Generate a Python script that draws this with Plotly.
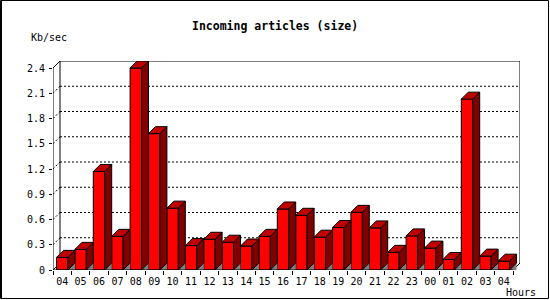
import plotly.graph_objects as go

hours = ["04", "05", "06", "07", "08", "09", "10", "11", "12", "13", "14", "15", "16",
         "17", "18", "19", "20", "21", "22", "23", "00", "01", "02", "03", "04"]
kbsec = [0.15, 0.245, 1.17, 0.40, 2.40, 1.62, 0.735, 0.29, 0.365, 0.33, 0.285, 0.40, 0.725,
         0.65, 0.39, 0.505, 0.685, 0.50, 0.21, 0.405, 0.26, 0.125, 2.03, 0.165, 0.105]
ytick_vals = [0, 0.3, 0.6, 0.9, 1.2, 1.5, 1.8, 2.1, 2.4]
ytick_text = ["0", "0.3", "0.6", "0.9", "1.2", "1.5", "1.8", "2.1", "2.4"]

W, H = 550, 300
ML, MR, MT, MB = 53, 30, 61, 30
pw, ph = W - ML - MR, H - MT - MB
n = len(hours)
pxx = (pw - 7) / n            # px per category on front
pxy = (ph - 7) / 2.4          # px per unit on front
dx = 7 / pxx
dy = 7 / pxy
xmin, xmax = -0.5, n - 0.5 + dx
ymax = 2.4 + dy
bw = 0.62

RED, TOP, SIDE, GRAY = "#ff0000", "#c00000", "#800000", "#808080"

def px2paper(x, y):
    return (x - ML) / pw, (H - MB - y) / ph

shapes = []
# grid lines on back wall
for v in ytick_vals[1:-1]:
    shapes.append(dict(type="line", xref="x", yref="y", layer="below",
                       x0=xmin + dx, x1=xmax, y0=v + dy, y1=v + dy,
                       line=dict(color="black", width=1, dash="2px,2px")))
    shapes.append(dict(type="line", xref="x", yref="y", layer="below",
                       x0=xmin, x1=xmin + dx, y0=v, y1=v + dy,
                       line=dict(color="black", width=1, dash="2px,2px")))
# walls / axes
wall = dict(color="black", width=1)
shapes += [
    dict(type="line", xref="x", yref="y", x0=xmin + dx, x1=xmin + dx, y0=dy, y1=ymax, line=wall, layer="below"),
    dict(type="line", xref="x", yref="y", x0=xmin + dx, x1=xmax, y0=ymax, y1=ymax, line=wall, layer="below"),
    dict(type="line", xref="x", yref="y", x0=xmax, x1=xmax, y0=dy, y1=ymax, line=wall, layer="below"),
    dict(type="line", xref="x", yref="y", x0=xmin, x1=xmin + dx, y0=2.4, y1=ymax, line=wall, layer="below"),
    dict(type="line", xref="x", yref="y", x0=xmin, x1=xmin + dx, y0=0, y1=dy, line=wall, layer="below"),
    dict(type="line", xref="x", yref="y", x0=n - 0.5, x1=xmax, y0=0, y1=dy, line=wall, layer="below"),
]
# 3D faces
for i, v in enumerate(kbsec):
    xl, xr = i - bw / 2, i + bw / 2
    shapes.append(dict(type="path", xref="x", yref="y", layer="above",
                       path=f"M {xr},0 L {xr + dx},{dy} L {xr + dx},0 Z",
                       fillcolor=GRAY, line=dict(width=0)))
    shapes.append(dict(type="path", xref="x", yref="y", layer="above",
                       path=f"M {xr},0 L {xr},{v} L {xr + dx},{v + dy} L {xr + dx},{dy} Z",
                       fillcolor=SIDE, line=dict(color="black", width=1)))
    shapes.append(dict(type="path", xref="x", yref="y", layer="above",
                       path=f"M {xl},{v} L {xl + dx},{v + dy} L {xr + dx},{v + dy} L {xr},{v} Z",
                       fillcolor=TOP, line=dict(color="black", width=1)))
# front axes
shapes.append(dict(type="line", xref="x", yref="y", x0=xmin, x1=xmin, y0=0, y1=2.4, line=wall, layer="above"))
shapes.append(dict(type="line", xref="x", yref="y", x0=xmin, x1=n - 0.5, y0=0, y1=0, line=wall, layer="above"))
# image border
bx0, by0 = px2paper(0.5, 0.5)
bx1, by1 = px2paper(548.5, 298.5)
shapes.append(dict(type="rect", xref="paper", yref="paper", x0=bx0, x1=bx1, y0=by0, y1=by1,
                   line=dict(color="black", width=1)))
lx, _ = px2paper(1.5, 0)
shapes.append(dict(type="line", xref="paper", yref="paper", x0=lx, x1=lx, y0=by0, y1=by1,
                   line=dict(color="black", width=1)))

fig = go.Figure(go.Bar(x=list(range(n)), y=kbsec, width=bw,
                       marker=dict(color=RED, line=dict(color="black", width=1)),
                       hoverinfo="skip"))

mono = "DejaVu Sans Mono"
tx, ty = px2paper(275, 26)
kx, ky = px2paper(29, 37)
hx, hy = px2paper(504, 292)
fig.update_layout(
    width=W, height=H, margin=dict(l=ML, r=MR, t=MT, b=MB),
    paper_bgcolor="white", plot_bgcolor="white", showlegend=False,
    font=dict(family=mono, size=10, color="black"),
    shapes=shapes,
    annotations=[
        dict(text="<b>Incoming articles (size)</b>", x=tx, y=ty, xref="paper", yref="paper",
             showarrow=False, xanchor="center", yanchor="middle", font=dict(family=mono, size=11.5)),
        dict(text="Kb/sec", x=kx, y=ky, xref="paper", yref="paper",
             showarrow=False, xanchor="left", yanchor="middle", font=dict(family=mono, size=10)),
        dict(text="Hours", x=hx, y=hy, xref="paper", yref="paper",
             showarrow=False, xanchor="left", yanchor="middle", font=dict(family=mono, size=10)),
    ],
    xaxis=dict(range=[xmin, xmax], tickmode="array", tickvals=list(range(n)), ticktext=hours,
               ticks="", showgrid=False, zeroline=False, showline=False, fixedrange=True,
               tickfont=dict(family=mono, size=10), ticklabelstandoff=4,
               minor=dict(tickmode="array", tickvals=[i - 0.5 for i in range(n + 1)],
                          ticks="outside", ticklen=4, tickcolor="black", tickwidth=1, showgrid=False)),
    yaxis=dict(range=[0, ymax], tickmode="array", tickvals=ytick_vals, ticktext=ytick_text,
               ticks="outside", ticklen=3, tickcolor="black", tickwidth=1,
               showgrid=False, zeroline=False, showline=False, fixedrange=True,
               tickfont=dict(family=mono, size=10), ticklabelstandoff=2),
)
fig.write_html("out.html")
